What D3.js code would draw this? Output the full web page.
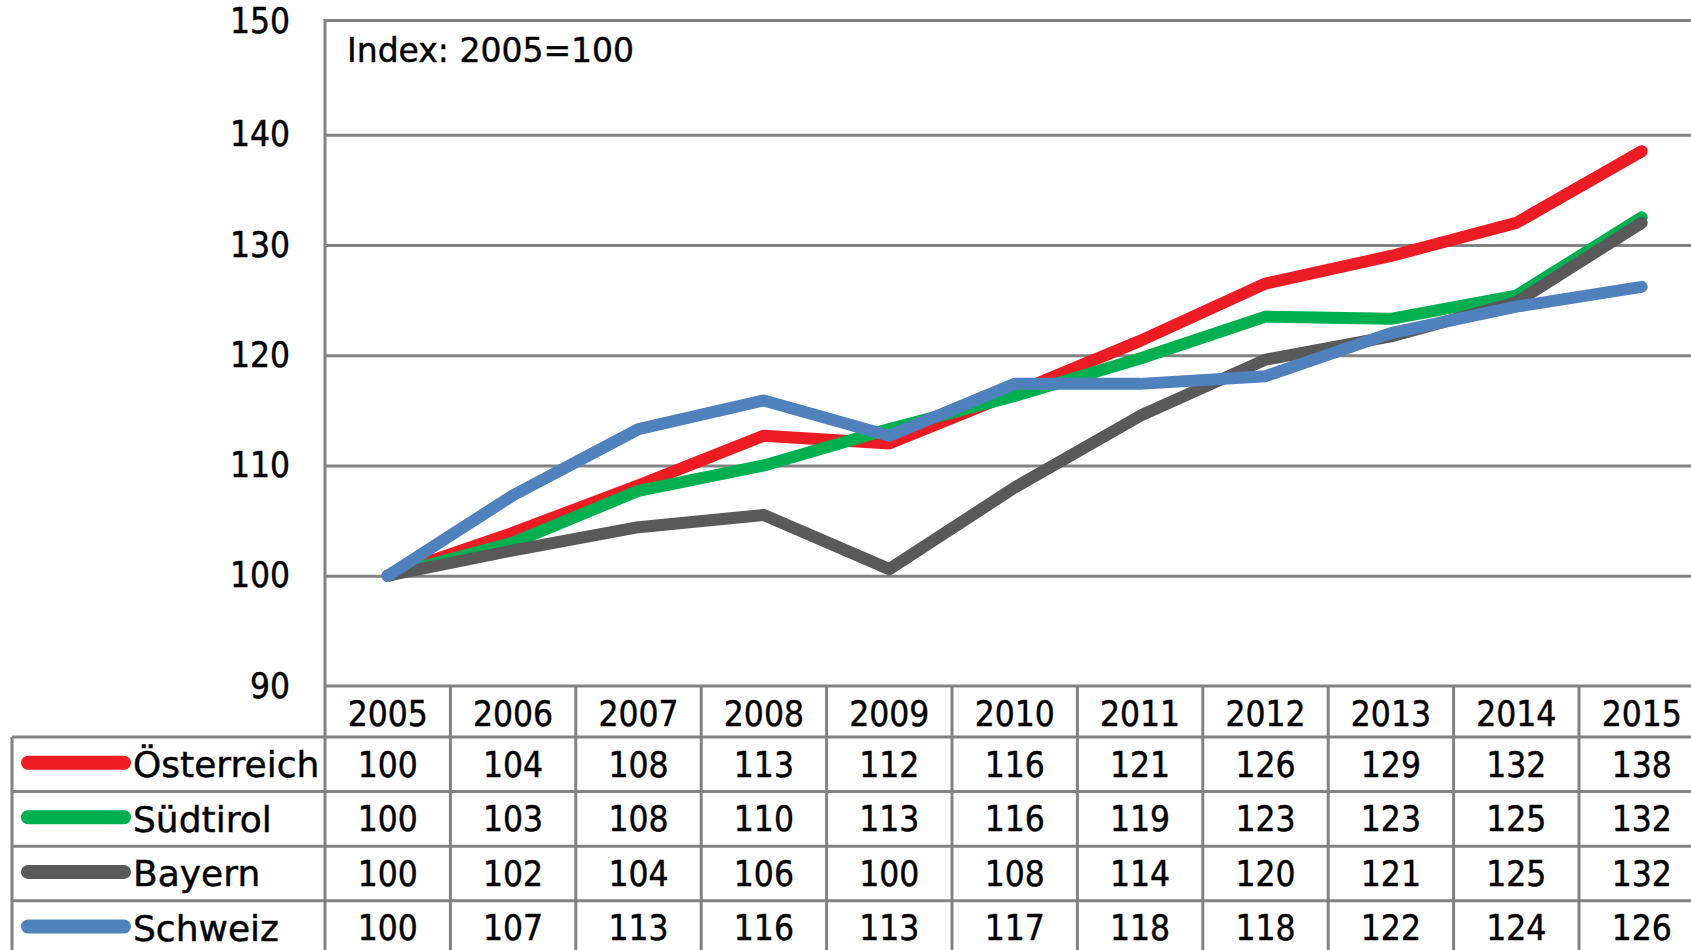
<!DOCTYPE html>
<html>
<head>
<meta charset="utf-8">
<script src="https://cdn.jsdelivr.net/npm/d3@7"></script>
<style>
  body { margin: 0; background: #fff; }
  svg text { fill: #000; stroke: #000; stroke-width: 0.45px; }
</style>
</head>
<body>
<svg id="chart" width="1691" height="950"></svg>
<script>
var years = ["2005", "2006", "2007", "2008", "2009", "2010", "2011", "2012", "2013", "2014", "2015"];
var seriesNames = ["Österreich", "Südtirol", "Bayern", "Schweiz"];
var seriesColors = ["#ed1c24", "#00b050", "#595959", "#4f81bd"];

// values as plotted
var oesterreich = [100, 103.9, 108.2, 112.7, 112.0, 116.6, 121.3, 126.5, 129.0, 132.0, 138.5];
var suedtirol   = [100, 103.0, 107.7, 110.0, 113.3, 116.3, 119.7, 123.5, 123.3, 125.4, 132.5];
var bayern      = [100, 102.3, 104.4, 105.5, 100.6, 108.0, 114.5, 119.6, 121.7, 124.8, 132.0];
var schweiz     = [100, 107.3, 113.3, 115.9, 112.7, 117.4, 117.4, 118.1, 122.0, 124.4, 126.2];

// values as printed in the table
var tableOesterreich = [100, 104, 108, 113, 112, 116, 121, 126, 129, 132, 138];
var tableSuedtirol   = [100, 103, 108, 110, 113, 116, 119, 123, 123, 125, 132];
var tableBayern      = [100, 102, 104, 106, 100, 108, 114, 120, 121, 125, 132];
var tableSchweiz     = [100, 107, 113, 116, 113, 117, 118, 118, 122, 124, 126];

var yTicks = [90, 100, 110, 120, 130, 140, 150];
var indexLabel = "Index: 2005=100";

var lineSeries = [oesterreich, suedtirol, bayern, schweiz];
var tableRows = [tableOesterreich, tableSuedtirol, tableBayern, tableSchweiz];

var svg = d3.select("#chart");
var gridColor = "#828282";
var numFont = "'DejaVu Sans Condensed', 'DejaVu Sans', sans-serif";
var wordFont = "'DejaVu Sans', sans-serif";

var plotLeft = 325, plotTop = 20.5, plotBottom = 686, colWidth = 125.4;
var tableLeft = 12, headerH = 51, rowH = 54.6;

var x = d3.scaleBand().domain(years).range([plotLeft, plotLeft + colWidth * years.length]);
var y = d3.scaleLinear().domain([90, 150]).range([plotBottom, 24.4]);
var tableRight = x.range()[1];

// gridlines
svg.append("g").attr("class", "grid")
  .attr("transform", "translate(" + plotLeft + ",0)")
  .call(d3.axisLeft(y).tickValues([100, 110, 120, 130, 140]).tickSize(-(tableRight - plotLeft)).tickFormat(""))
  .call(function(g) { g.select(".domain").remove(); })
  .selectAll("line").attr("stroke", gridColor).attr("stroke-width", 3);

// top border of the plot area
svg.append("line")
  .attr("x1", plotLeft).attr("x2", tableRight).attr("y1", plotTop).attr("y2", plotTop)
  .attr("stroke", gridColor).attr("stroke-width", 3);

// y labels
var yAxis = svg.append("g")
  .attr("transform", "translate(" + plotLeft + ",0)")
  .call(d3.axisLeft(y).tickValues(yTicks).tickSize(0).tickPadding(35))
  .call(function(g) { g.select(".domain").remove(); });
yAxis.selectAll("text").attr("font-family", numFont).attr("font-size", 35).attr("fill", "#000");
yAxis.selectAll(".tick").filter(function(d) { return d === 150; }).select("text").attr("dy", "0.22em");

svg.append("text")
  .attr("x", 347).attr("y", 50).attr("dy", "0.35em")
  .attr("font-family", wordFont).attr("font-size", 33)
  .text(indexLabel);

// table lines
var tableBottom = plotBottom + headerH + rowH * 4;
var grid = svg.append("g").attr("stroke", gridColor).attr("stroke-width", 3);
grid.append("line").attr("x1", plotLeft).attr("x2", tableRight).attr("y1", plotBottom).attr("y2", plotBottom);
d3.range(5).forEach(function(i) {
  var yy = plotBottom + headerH + rowH * i;
  grid.append("line").attr("x1", tableLeft).attr("x2", tableRight).attr("y1", yy).attr("y2", yy);
});
grid.append("line").attr("x1", tableLeft).attr("x2", tableLeft)
  .attr("y1", plotBottom + headerH).attr("y2", tableBottom);
grid.append("line").attr("x1", plotLeft).attr("x2", plotLeft).attr("y1", plotTop - 1.5).attr("y2", tableBottom);
years.forEach(function(yr) {
  var xx = x(yr) + x.bandwidth();
  grid.append("line").attr("x1", xx).attr("x2", xx).attr("y1", plotBottom).attr("y2", tableBottom);
});

// lines
var line = d3.line()
  .x(function(d, i) { return x(years[i]) + x.bandwidth() / 2; })
  .y(function(d) { return y(d); });

lineSeries.forEach(function(values, s) {
  svg.append("path").datum(values)
    .attr("d", line)
    .attr("fill", "none")
    .attr("stroke", seriesColors[s])
    .attr("stroke-width", 12)
    .attr("stroke-linejoin", "round")
    .attr("stroke-linecap", "round");
});

// header
svg.append("g").selectAll("text").data(years).join("text")
  .attr("x", function(d) { return x(d) + x.bandwidth() / 2; })
  .attr("y", plotBottom + headerH / 2 + 2).attr("dy", "0.35em")
  .attr("text-anchor", "middle")
  .attr("font-family", numFont).attr("font-size", 35)
  .text(function(d) { return d; });

// rows
tableRows.forEach(function(values, r) {
  var cy = plotBottom + headerH + rowH * r + rowH / 2;
  var row = svg.append("g");
  row.append("line")
    .attr("x1", 28).attr("x2", 124).attr("y1", cy - 1.6).attr("y2", cy - 1.6)
    .attr("stroke", seriesColors[r]).attr("stroke-width", 14).attr("stroke-linecap", "round");
  row.append("text")
    .attr("x", 133).attr("y", cy).attr("dy", "0.35em")
    .attr("font-family", wordFont).attr("font-size", 36)
    .text(seriesNames[r]);
  row.selectAll("text.v").data(values).join("text").attr("class", "v")
    .attr("x", function(d, i) { return x(years[i]) + x.bandwidth() / 2; })
    .attr("y", cy).attr("dy", "0.35em")
    .attr("text-anchor", "middle")
    .attr("font-family", numFont).attr("font-size", 35)
    .text(function(d) { return d; });
});
</script>
</body>
</html>
